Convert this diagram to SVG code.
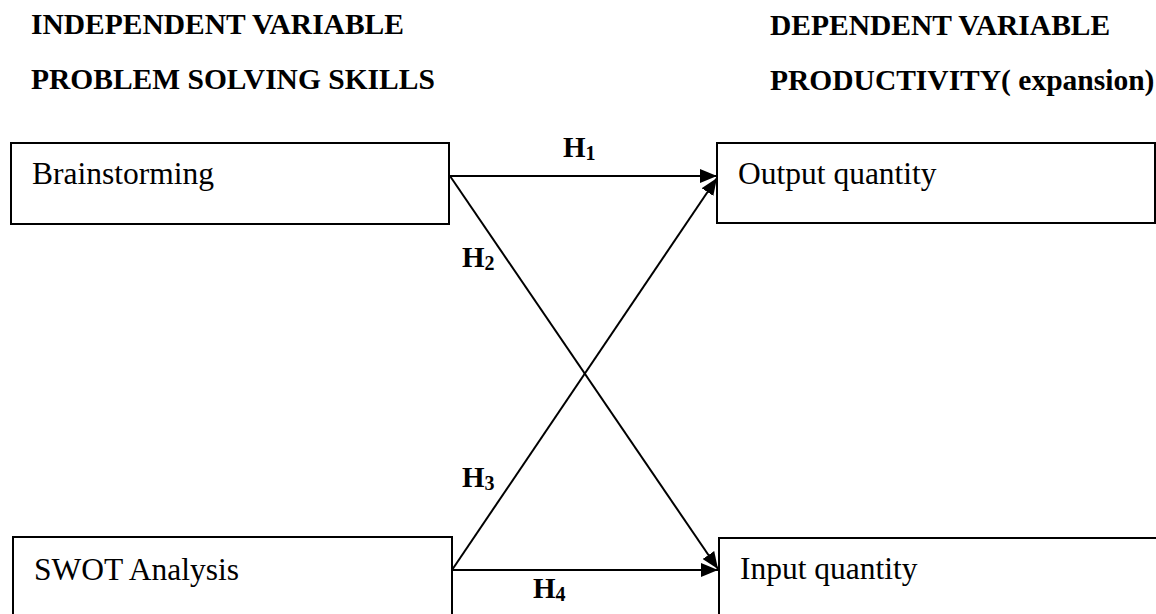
<svg xmlns="http://www.w3.org/2000/svg" width="1156" height="614" viewBox="0 0 1156 614">
<style>
.hdr{font-family:"Liberation Serif",serif;font-weight:bold;font-size:29.5px;fill:#000}
.lbl{font-family:"Liberation Serif",serif;font-size:31.5px;fill:#000}
.h{font-family:"Liberation Serif",serif;font-weight:bold;font-size:29px;fill:#000}
.sub{font-size:20px}
.box{fill:#fff;stroke:#000;stroke-width:2}
.con{stroke:#000;stroke-width:2;fill:none;marker-end:url(#arr)}
</style>
<defs>
<marker id="arr" viewBox="0 0 17 14" refX="17" refY="7" markerWidth="17" markerHeight="14" markerUnits="userSpaceOnUse" orient="auto">
<path d="M0,0 L17,7 L0,14 z" fill="#000"/>
</marker>
</defs>
<rect width="1156" height="614" fill="#fff"/>
<text class="hdr" x="31" y="34">INDEPENDENT VARIABLE</text>
<text class="hdr" x="31" y="89">PROBLEM SOLVING SKILLS</text>
<text class="hdr" x="770" y="35">DEPENDENT VARIABLE</text>
<text class="hdr" x="770" y="90">PRODUCTIVITY( expansion)</text>
<g id="brainstorming">
<rect class="box" x="11" y="143" width="438" height="81"/>
<text class="lbl" x="32" y="184">Brainstorming</text>
</g>
<g id="swot">
<rect class="box" x="13" y="537" width="439" height="100"/>
<text class="lbl" x="34" y="580">SWOT Analysis</text>
</g>
<g id="output">
<rect class="box" x="717" y="143" width="438" height="80"/>
<text class="lbl" x="738" y="184">Output quantity</text>
</g>
<g id="input">
<rect class="box" x="719" y="538" width="438" height="100"/>
<text class="lbl" x="740" y="579">Input quantity</text>
</g>
<g id="connectors">
<line class="con" x1="450" y1="176" x2="717" y2="176"/>
<line class="con" x1="450" y1="176" x2="718" y2="569"/>
<line class="con" x1="452" y1="570" x2="717" y2="178"/>
<line class="con" x1="452" y1="570" x2="718" y2="570"/>
</g>
<g id="labels">
<text class="h" x="563" y="157">H<tspan class="sub" dy="3">1</tspan></text>
<text class="h" x="462" y="267">H<tspan class="sub" dy="3">2</tspan></text>
<text class="h" x="462" y="487">H<tspan class="sub" dy="3">3</tspan></text>
<text class="h" x="533" y="598">H<tspan class="sub" dy="3">4</tspan></text>
</g>
</svg>
